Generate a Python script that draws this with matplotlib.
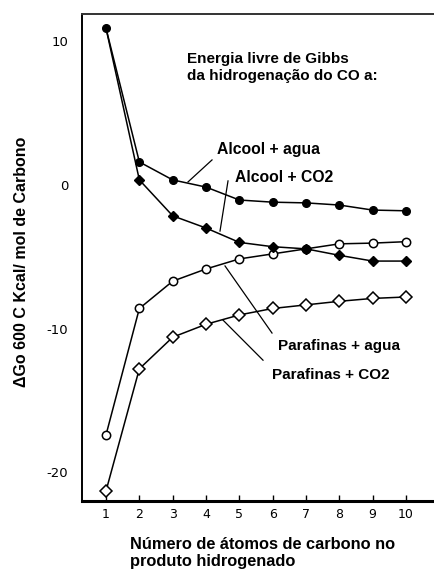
import numpy as np
from matplotlib import pyplot as plt

# carbon number of the hydrogenated product
carbonos = [1, 2, 3, 4, 5, 6, 7, 8, 9, 10]

# Gibbs free energy at 600 C, kcal per mol of carbon
alcool_agua = [10.9, 1.6, 0.35, -0.15, -1.05, -1.2, -1.25, -1.4, -1.75, -1.8]
alcool_co2 = [10.9, 0.35, -2.15, -3.0, -4.0, -4.3, -4.45, -4.9, -5.3, -5.3]
parafinas_agua = [-17.4, -8.6, -6.7, -5.85, -5.15, -4.8, -4.45, -4.1, -4.05, -3.95]
parafinas_co2 = [-21.3, -12.8, -10.6, -9.7, -9.05, -8.6, -8.35, -8.1, -7.9, -7.8]

y_ticks = [10, 0, -10, -20]
y_tick_labels = ['10', '0', '-10', '-20']

plt.rcParams['font.family'] = ['Liberation Sans', 'DejaVu Sans']

fig = plt.figure(figsize=(4.34, 5.73), dpi=100)
ax = fig.add_axes([0.189, 0.1257, 0.811, 0.8499])

ax.plot(carbonos, parafinas_co2, color='black', lw=1.1, marker='D', ms=6.5,
        mfc='white', mec='black', mew=1.1)
ax.plot(carbonos, parafinas_agua, color='black', lw=1.1, marker='o', ms=6,
        mfc='white', mec='black', mew=1.1)
ax.plot(carbonos, alcool_co2, color='black', lw=1.1, marker='D', ms=5.5,
        mfc='black', mec='black', markevery=list(range(1, 10)))
ax.plot(carbonos, alcool_agua, color='black', lw=1.1, marker='o', ms=5.5,
        mfc='black', mec='black')

ax.set_xlim(0.28, 10.84)
ax.set_ylim(-22.0, 11.9)

ax.set_xticks(carbonos)
ax.set_xticklabels([str(c) for c in carbonos], fontsize=9, family='DejaVu Sans')
ax.set_yticks(y_ticks)
ax.set_yticklabels(y_tick_labels, fontsize=9.5, family='DejaVu Sans')
ax.tick_params(axis='x', direction='in', length=4, width=1, pad=5)
ax.tick_params(axis='y', length=0, pad=10)

ax.spines['right'].set_visible(False)
ax.spines['left'].set_linewidth(1.4)
ax.spines['top'].set_linewidth(1.4)
ax.spines['top'].set_color('#333333')
ax.spines['bottom'].set_linewidth(2.2)

# titles and series labels
ax.text(3.43, 8.15, 'Energia livre de Gibbs\nda hidrogenação do CO a:',
        fontsize=11, fontweight='bold', ha='left', va='center', linespacing=1.25)
ax.text(4.33, 2.44, 'Alcool + agua', fontsize=11.3, fontweight='bold', ha='left', va='center')
ax.text(4.87, 0.49, 'Alcool + CO2', fontsize=11.3, fontweight='bold', ha='left', va='center')
ax.text(6.16, -11.22, 'Parafinas + agua', fontsize=11, fontweight='bold', ha='left', va='center')
ax.text(5.98, -13.24, 'Parafinas + CO2', fontsize=11, fontweight='bold', ha='left', va='center')

# leader lines from labels to curves
leaders = [((4.18, 1.74), (3.46, 0.21)),
           ((4.66, 0.28), (4.42, -3.21)),
           ((5.98, -10.31), (4.57, -5.64)),
           ((5.71, -12.20), (4.51, -9.41))]
for (x0, y0), (x1, y1) in leaders:
    ax.plot([x0, x1], [y0, y1], color='black', lw=0.9)

fig.text(22 / 434, 1 - 262 / 573, 'ΔGo 600 C Kcal/ mol de Carbono', rotation=90,
         fontsize=11.5, fontweight='bold', ha='center', va='center')
fig.text(130 / 434, 1 - 553 / 573, 'Número de átomos de carbono no\nproduto hidrogenado',
         fontsize=11.8, fontweight='bold', ha='left', va='center', linespacing=1.15)

fig.savefig('out.png', dpi=100)
